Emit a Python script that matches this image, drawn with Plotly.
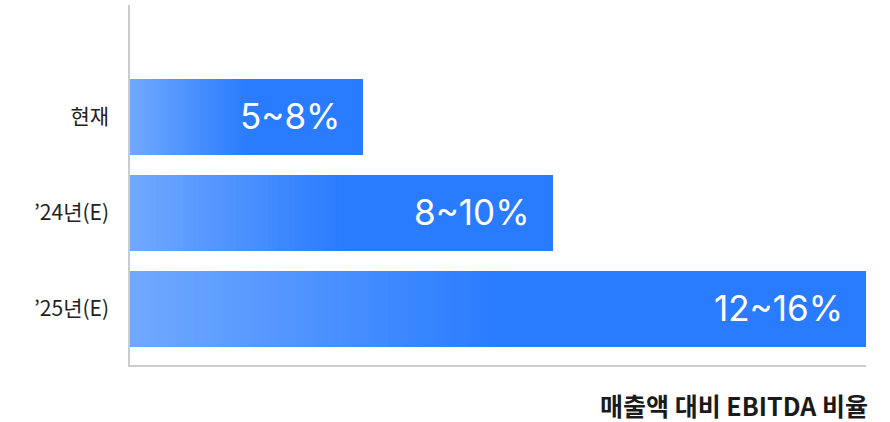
import plotly.graph_objects as go

# Data (bottom to top order on the axis)
categories = ["’25년(E)", "’24년(E)", "현재"]
values = [100, 57.5, 31.7]          # relative bar length
labels = ["12~16%", "8~10%", "5~8%"]
axis_title = "매출액 대비 EBITDA 비율"

LIGHT = (112, 168, 255)
DARK = (41, 123, 255)
GRAD_END = 0.5   # gradient spans first half of each bar
STEPS = 40

def mix(t):
    r = [round(LIGHT[i] + (DARK[i] - LIGHT[i]) * t) for i in range(3)]
    return f"rgb({r[0]},{r[1]},{r[2]})"

fig = go.Figure()
fig.add_trace(go.Bar(y=categories, x=values, orientation="h", width=0.8,
                     marker=dict(color=mix(1.0), line=dict(width=0)),
                     hoverinfo="skip", showlegend=False))
for k in range(STEPS):
    frac = GRAD_END * (1 - k / STEPS)
    t = 1 - k / STEPS
    fig.add_trace(go.Bar(y=categories, x=[v * frac for v in values],
                         orientation="h", width=0.8,
                         marker=dict(color=mix(t - 1 / STEPS), line=dict(width=0)),
                         hoverinfo="skip", showlegend=False))

for c, v, lab in zip(categories, values, labels):
    fig.add_annotation(x=v, y=c, text=lab, showarrow=False, xanchor="right",
                       xshift=-21, yshift=1,
                       font=dict(family="Inter, Noto Sans CJK KR", size=35, color="white"))

fig.add_annotation(x=1, y=-0.11, xref="paper", yref="paper", text=f"<b>{axis_title}</b>",
                   showarrow=False, xanchor="right", yanchor="middle", xshift=3,
                   borderpad=0,
                   font=dict(family="Noto Sans CJK KR", size=25, color="#1a1a1a"))

fig.update_layout(
    width=890, height=422,
    margin=dict(l=130, r=24, t=5, b=57),
    barmode="overlay", bargap=0,
    plot_bgcolor="white", paper_bgcolor="white",
    xaxis=dict(range=[0, 100], showgrid=False, zeroline=False, showticklabels=False,
               showline=True, linecolor="#cccccc", linewidth=1.5, ticks=""),
    yaxis=dict(type="category", categoryorder="array", categoryarray=categories,
               range=[-0.583, 3.167], showgrid=False, zeroline=False,
               showline=True, linecolor="#cccccc", linewidth=1.5, ticks="",
               ticklabelstandoff=15,
               tickfont=dict(family="Noto Sans CJK KR", size=21, color="#222222")),
)

fig.write_html("out.html", config={"displayModeBar": False},
               post_script="document.body.style.margin='0';document.body.style.overflow='hidden';")
